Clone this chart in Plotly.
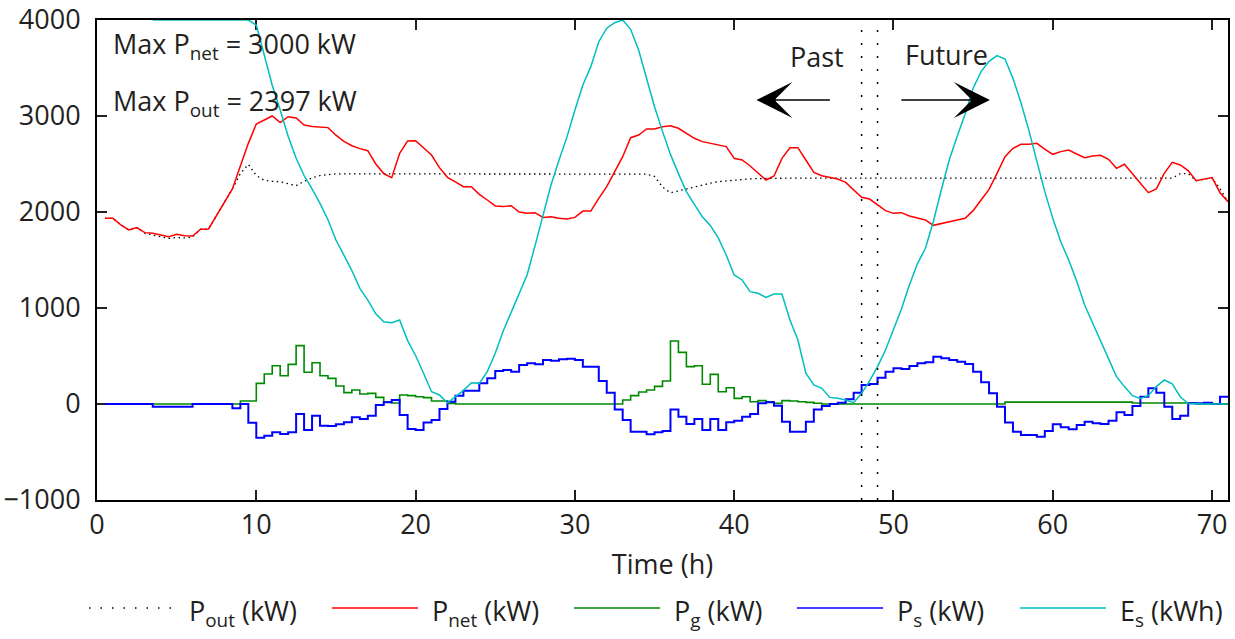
import numpy as np
import plotly.graph_objects as go

# time axis: half-hour samples
time_h = np.arange(0.5, 71.01, 0.5)

p_net = [1934, 1934, 1865, 1813, 1837, 1785, 1778, 1760, 1743, 1767,
         1753, 1750, 1820, 1823, 1960, 2110, 2240, 2480, 2715, 2917,
         2960, 3000, 2931, 2993, 2980, 2906, 2890, 2885, 2879, 2800,
         2735, 2690, 2660, 2639, 2500, 2400, 2358, 2611, 2740, 2743,
         2663, 2594, 2462, 2361, 2313, 2264, 2264, 2184, 2125, 2063,
         2056, 2066, 2000, 1986, 1993, 1944, 1951, 1934, 1927, 1944,
         2010, 2010, 2142, 2264, 2420, 2576, 2774, 2802, 2865, 2865,
         2889, 2899, 2872, 2820, 2768, 2733, 2715, 2700, 2681, 2559,
         2542, 2479, 2403, 2333, 2375, 2559, 2670, 2670, 2542, 2413,
         2378, 2358, 2344, 2309, 2229, 2153, 2135, 2073, 2014, 1986,
         1993, 1958, 1934, 1917, 1861, 1882, 1899, 1917, 1934, 2014,
         2125, 2236, 2403, 2576, 2663, 2705, 2705, 2715, 2656, 2601,
         2629, 2646, 2604, 2566, 2583, 2590, 2549, 2455, 2497, 2403,
         2299, 2201, 2240, 2403, 2517, 2490, 2431, 2326, 2340, 2358,
         2201, 2108]

p_out = [1934, 1934, 1865, 1813, 1837, 1780, 1760, 1740, 1725, 1735,
         1730, 1740, 1820, 1823, 1960, 2110, 2240, 2400, 2497, 2380,
         2330, 2320, 2316, 2295, 2274, 2320, 2355, 2380, 2390, 2397,
         2397, 2397, 2397, 2397, 2397, 2397, 2397, 2397, 2397, 2397,
         2397, 2397, 2397, 2397, 2397, 2397, 2397, 2397, 2397, 2397,
         2397, 2397, 2397, 2397, 2397, 2397, 2397, 2397, 2397, 2397,
         2397, 2397, 2397, 2397, 2397, 2397, 2397, 2397, 2395, 2370,
         2260, 2200, 2220, 2247, 2265, 2281, 2300, 2316, 2325, 2333,
         2340, 2345, 2348, 2351, 2352, 2353, 2353, 2353, 2353, 2353,
         2353, 2353, 2353, 2353, 2353, 2353, 2353, 2353, 2353, 2353,
         2353, 2353, 2353, 2353, 2353, 2353, 2353, 2353, 2353, 2353,
         2353, 2353, 2353, 2353, 2353, 2353, 2353, 2353, 2353, 2353,
         2353, 2353, 2353, 2353, 2353, 2353, 2353, 2353, 2353, 2353,
         2353, 2353, 2353, 2353, 2353, 2400, 2400, 2326, 2340, 2358,
         2240, 2108]

p_g = [0, 0, 0, 0, 0, 0, 0, 0, 0, 0,
       0, 0, 0, 0, 0, 0, 0, 31, 31, 215,
       312, 399, 295, 413, 608, 330, 430, 295, 267, 188,
       118, 146, 104, 111, 69, 20, 10, 94, 87, 76,
       66, 31, 31, 7, 0, 0, 0, 0, 0, 0,
       0, 0, 0, 0, 0, 0, 0, 0, 0, 0,
       0, 0, 0, 0, 0, 42, 87, 125, 146, 184,
       240, 656, 538, 389, 399, 205, 309, 128, 170, 59,
       76, 24, 35, 24, 7, 35, 31, 24, 17, 8,
       0, 0, 0, 0, 0, 0, 0, 0, 0, 0,
       0, 0, 0, 0, 0, 0, 0, 0, 0, 0,
       0, 0, 0, 20, 20, 20, 20, 20, 20, 20,
       20, 20, 20, 20, 20, 20, 20, 20, 20, 10,
       10, 10, 10, 10, 10, 10, 10, 0, 0, 0,
       0, 0]

p_s = [0, 0, 0, 0, 0, 0, -28, -28, -28, -28,
       -28, 0, 0, 0, 0, 0, -45, 0, -195, -351,
       -330, -295, -313, -295, -104, -271, -122, -226, -230, -212,
       -191, -139, -156, -122, -10, 17, 42, -115, -260, -271,
       -194, -167, -52, 24, 87, 139, 139, 215, 267, 344,
       354, 337, 406, 424, 413, 458, 451, 465, 472, 458,
       389, 389, 240, 118, -56, -167, -288, -288, -316, -295,
       -281, -56, -132, -208, -156, -271, -156, -271, -191, -174,
       -132, -104, 7, 17, -17, -184, -288, -288, -184, -56,
       -21, 0, 14, 49, 118, 198, 208, 274, 337, 372,
       365, 396, 424, 434, 493, 476, 458, 441, 417, 337,
       226, 111, -28, -194, -288, -323, -323, -340, -281, -212,
       -243, -264, -219, -184, -201, -208, -174, -87, -115, -21,
       76, 163, 118, -28, -156, -122, 7, 7, 14, 0,
       76, 76]

e_s = [None, None, None, None, None, None, 4000, 4000, 4000, 4000,
       4000, 4000, 4000, 4000, 4000, 4000, 4000, 4000, 4000, 3948,
       3640, 3320, 3063, 2790, 2560, 2380, 2240, 2090, 1920, 1708,
       1550, 1390, 1205, 1083, 940, 857, 847, 875, 660, 505,
       320, 128, 94, 10, 76, 140, 222, 215, 337, 528,
       760, 960, 1155, 1344, 1650, 1951, 2281, 2540, 2780, 3060,
       3323, 3514, 3774, 3915, 3972, 4000, 3903, 3688, 3393, 3097,
       2840, 2600, 2400, 2212, 2080, 1951, 1860, 1730, 1552, 1344,
       1292, 1170, 1153, 1111, 1146, 1146, 875, 667, 320, 198,
       163, 69, 59, 42, 14, 111, 240, 389, 563, 770,
       990, 1240, 1460, 1620, 1899, 2229, 2542, 2790, 3020, 3290,
       3462, 3570, 3629, 3594, 3392, 3140, 2850, 2530, 2212, 1934,
       1690, 1500, 1280, 1031, 840, 660, 476, 285, 181, 87,
       59, 87, 181, 250, 210, 76, 5, 0, 0, 0,
       0, 0]

now_marks = [48, 49]
max_p_net = 3000
max_p_out = 2397

TXT = "#231f20"
FONT = "Open Sans"
FS = 27

series = [
    ("P<sub>out</sub> (kW)", p_out, dict(color="black", width=1.3, dash="1.5px,3.5px"), "linear"),
    ("P<sub>net</sub> (kW)", p_net, dict(color="#ff0000", width=1.5), "linear"),
    ("P<sub>g</sub> (kW)", p_g, dict(color="#008a00", width=1.6), "hv"),
    ("P<sub>s</sub> (kW)", p_s, dict(color="#0000ff", width=2), "hv"),
    ("E<sub>s</sub> (kWh)", e_s, dict(color="rgb(0,190,190)", width=1.5), "linear"),
]

fig = go.Figure()
for name, vals, line, shape in series:
    fig.add_trace(go.Scatter(x=time_h, y=vals, mode="lines", name=name,
                             line=dict(shape=shape, **line), showlegend=False,
                             connectgaps=False))

# vertical "now" markers
for xm in now_marks:
    fig.add_shape(type="line", x0=xm, x1=xm, y0=-1000, y1=4000, xref="x", yref="y",
                  line=dict(color="black", width=1.5, dash="2px,11px"))

tf = dict(size=FS, color=TXT, family=FONT)
ann = []
ann.append(dict(x=0.9, y=3735, xref="x", yref="y", xanchor="left", yanchor="middle",
                text=f"Max P<sub>net</sub> = {max_p_net} kW", showarrow=False, font=tf))
ann.append(dict(x=0.9, y=3145, xref="x", yref="y", xanchor="left", yanchor="middle",
                text=f"Max P<sub>out</sub> = {max_p_out} kW", showarrow=False, font=tf))
ann.append(dict(x=45.2, y=3620, xref="x", yref="y", text="Past", showarrow=False, font=tf))
ann.append(dict(x=53.3, y=3640, xref="x", yref="y", text="Future", showarrow=False, font=tf))
# arrows
ann.append(dict(x=41.4, y=3167, ax=46.1, ay=3167, xref="x", yref="y", axref="x", ayref="y",
                text="", showarrow=True, arrowhead=3, arrowsize=4, arrowwidth=1.5,
                arrowcolor="black"))
ann.append(dict(x=56.05, y=3167, ax=50.4, ay=3167, xref="x", yref="y", axref="x", ayref="y",
                text="", showarrow=True, arrowhead=3, arrowsize=4, arrowwidth=1.5,
                arrowcolor="black"))

# manual legend (line samples + labels) below the plot
PX0, PW, PY0, PH = 97, 1131, 500, 480
def px(xp):
    return (xp - PX0) / PW
def py(yp):
    return (PY0 - yp) / PH

leg_starts = [89, 332, 574, 797, 1020]
leg_y = 608
for i, ((name, vals, line, shape), xs) in enumerate(zip(series, leg_starts)):
    dash = "1.5px,10px" if i == 0 else "solid"
    fig.add_shape(type="line", xref="paper", yref="paper", x0=px(xs), x1=px(xs + 86),
                  y0=py(leg_y), y1=py(leg_y),
                  line=dict(color=line["color"], width=1.5, dash=dash))
    ann.append(dict(x=px(xs + 98), y=py(leg_y + 4), xref="paper", yref="paper",
                    xanchor="left", yanchor="middle", text=name, showarrow=False, font=tf))

fig.update_layout(
    width=1235, height=639,
    margin=dict(l=97, r=7, t=20, b=139, autoexpand=False),
    plot_bgcolor="white", paper_bgcolor="white",
    font=dict(family=FONT, size=FS, color=TXT),
    annotations=ann,
    showlegend=False,
)
fig.update_xaxes(range=[0, 71], dtick=10, tick0=0, showgrid=False, zeroline=False,
                 showline=True, linecolor="black", linewidth=2, mirror="allticks",
                 ticks="inside", ticklen=10, tickwidth=1.5, tickcolor="#231f20",
                 layer="below traces", tickfont=dict(size=FS, color=TXT), automargin=False,
                 title=dict(text="Time (h)", standoff=14, font=dict(size=FS, color=TXT)))
fig.update_yaxes(range=[-1000, 4000], dtick=1000, tick0=0, showgrid=False, zeroline=False,
                 showline=True, linecolor="black", linewidth=2, mirror="allticks",
                 ticks="inside", ticklen=10, tickwidth=1.5, tickcolor="#231f20",
                 layer="below traces", tickformat="d", tickfont=dict(size=FS, color=TXT),
                 ticklabelstandoff=9, automargin=False)

fig.write_html("out.html")
